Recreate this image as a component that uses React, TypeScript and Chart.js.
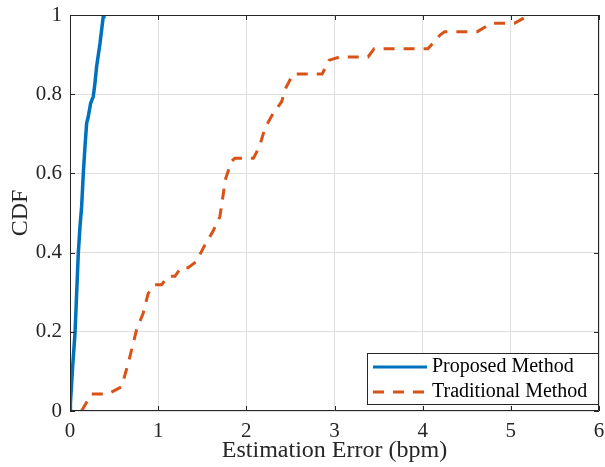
import React, { useEffect, useRef } from "react";
import { Chart, registerables } from "chart.js";

Chart.register(...registerables);

const xTicks = [0, 1, 2, 3, 4, 5, 6];
const yTicks = [0, 0.2, 0.4, 0.6, 0.8, 1];

const seriesNames = ["Proposed Method", "Traditional Method"];

const proposedX = [0, 0.005, 0.03, 0.057, 0.094, 0.113, 0.132, 0.151, 0.17, 0.189, 0.207, 0.234, 0.264, 0.283, 0.302, 0.34, 0.377, 0.385];
const proposedY = [0, 0.02, 0.112, 0.197, 0.398, 0.465, 0.516, 0.6, 0.668, 0.727, 0.743, 0.777, 0.794, 0.828, 0.87, 0.928, 0.996, 1];

const traditionalX = [0.13, 0.245, 0.43, 0.585, 0.66, 0.755, 0.83, 0.887, 0.963, 1.04, 1.11, 1.19, 1.26, 1.34, 1.43, 1.53, 1.62, 1.7, 1.74, 1.76, 1.83, 1.87, 2.08, 2.15, 2.21, 2.3, 2.4, 2.45, 2.53, 2.86, 2.94, 3.06, 3.17, 3.38, 3.45, 4.06, 4.2, 4.25, 4.62, 4.78, 5.04, 5.21];
const traditionalY = [0, 0.043, 0.043, 0.061, 0.12, 0.205, 0.247, 0.297, 0.319, 0.319, 0.34, 0.34, 0.362, 0.362, 0.377, 0.419, 0.453, 0.491, 0.55, 0.583, 0.63, 0.638, 0.638, 0.668, 0.714, 0.75, 0.781, 0.817, 0.851, 0.851, 0.886, 0.894, 0.894, 0.894, 0.915, 0.915, 0.95, 0.958, 0.958, 0.979, 0.979, 1.0];

const FONT = "'Liberation Serif', 'Times New Roman', serif";
const AXIS_COLOR = "#262626";

const boxPlugin = {
  id: "matlabBox",
  afterDatasetsDraw(chart: any) {
    const { ctx, chartArea } = chart;
    const { left, right, top, bottom } = chartArea;
    const xs = chart.scales.x;
    const ys = chart.scales.y;
    ctx.save();
    ctx.strokeStyle = AXIS_COLOR;
    ctx.lineWidth = 1;
    ctx.beginPath();
    ctx.rect(left + 0.5, top + 0.5, right - left - 1, bottom - top - 1);
    ctx.stroke();
    const tl = 5;
    ctx.beginPath();
    xTicks.forEach((v) => {
      const px = Math.round(xs.getPixelForValue(v)) + 0.5;
      ctx.moveTo(px, bottom);
      ctx.lineTo(px, bottom - tl);
      ctx.moveTo(px, top);
      ctx.lineTo(px, top + tl);
    });
    yTicks.forEach((v) => {
      const py = Math.round(ys.getPixelForValue(v)) + 0.5;
      ctx.moveTo(left, py);
      ctx.lineTo(left + tl, py);
      ctx.moveTo(right, py);
      ctx.lineTo(right - tl, py);
    });
    ctx.stroke();

    // legend
    const lw = 231;
    const lh = 51;
    const lx = right - lw - 1;
    const ly = bottom - lh - 7;
    ctx.fillStyle = "#ffffff";
    ctx.fillRect(lx, ly, lw, lh);
    ctx.strokeStyle = AXIS_COLOR;
    ctx.lineWidth = 1;
    ctx.strokeRect(lx + 0.5, ly + 0.5, lw, lh);
    ctx.font = `20px ${FONT}`;
    ctx.textBaseline = "middle";
    ctx.textAlign = "left";
    chart.data.datasets.forEach((ds: any, i: number) => {
      const cy = ly + 14 + i * 25;
      ctx.save();
      ctx.strokeStyle = ds.borderColor;
      ctx.lineWidth = 3;
      ctx.setLineDash(ds.borderDash || []);
      ctx.beginPath();
      ctx.moveTo(lx + 6, cy);
      ctx.lineTo(lx + 60, cy);
      ctx.stroke();
      ctx.restore();
      ctx.fillStyle = "#000000";
      ctx.fillText(ds.label, lx + 65, cy);
    });
    ctx.restore();
  },
};

const fmt = (v: any) => String(Number(Number(v).toFixed(2)));

export default function App() {
  const ref = useRef<HTMLCanvasElement | null>(null);
  useEffect(() => {
    if (!ref.current) return;
    const chart = new Chart(ref.current, {
      type: "line",
      data: {
        datasets: [
          {
            label: seriesNames[0],
            data: proposedX.map((x, i) => ({ x, y: proposedY[i] })),
            borderColor: "#0072BD",
            borderWidth: 3.5,
            pointRadius: 0,
            tension: 0,
          },
          {
            label: seriesNames[1],
            data: traditionalX.map((x, i) => ({ x, y: traditionalY[i] })),
            borderColor: "#D95319",
            borderWidth: 3,
            borderDash: [11, 9],
            pointRadius: 0,
            tension: 0,
          },
        ],
      },
      options: {
        animation: false,
        responsive: false,
        layout: { padding: { top: 15, right: 6, left: 0, bottom: 0 } },
        plugins: { legend: { display: false }, tooltip: { enabled: false } },
        scales: {
          x: {
            type: "linear",
            min: 0,
            max: 6,
            afterBuildTicks: (s: any) => {
              s.ticks = xTicks.map((v) => ({ value: v }));
            },
            afterFit: (s: any) => {
              s.height = 56;
              s.paddingLeft = 0;
              s.paddingRight = 0;
            },
            grid: { color: "#dfdfdf", drawTicks: false },
            border: { display: false },
            ticks: { padding: 8, color: AXIS_COLOR, font: { family: FONT, size: 21 }, maxRotation: 0, callback: fmt },
            title: {
              display: true,
              text: "Estimation Error (bpm)",
              color: AXIS_COLOR,
              font: { family: FONT, size: 24 },
              padding: { top: 0, bottom: 2 },
            },
          },
          y: {
            type: "linear",
            min: 0,
            max: 1,
            afterBuildTicks: (s: any) => {
              s.ticks = yTicks.map((v) => ({ value: v }));
            },
            afterFit: (s: any) => {
              s.width = 70;
              s.paddingTop = 0;
              s.paddingBottom = 0;
            },
            grid: { color: "#dfdfdf", drawTicks: false },
            border: { display: false },
            ticks: { padding: 8, color: AXIS_COLOR, font: { family: FONT, size: 21 }, callback: fmt },
            title: {
              display: true,
              text: "CDF",
              color: AXIS_COLOR,
              font: { family: FONT, size: 24 },
              padding: { top: 6, bottom: 0 },
            },
          },
        },
      },
      plugins: [boxPlugin],
    });
    return () => chart.destroy();
  }, []);
  return (
    <div style={{ position: "absolute", left: 0, top: 0, width: 605, height: 467, background: "#fff" }}>
      <canvas ref={ref} width={605} height={467} />
    </div>
  );
}
